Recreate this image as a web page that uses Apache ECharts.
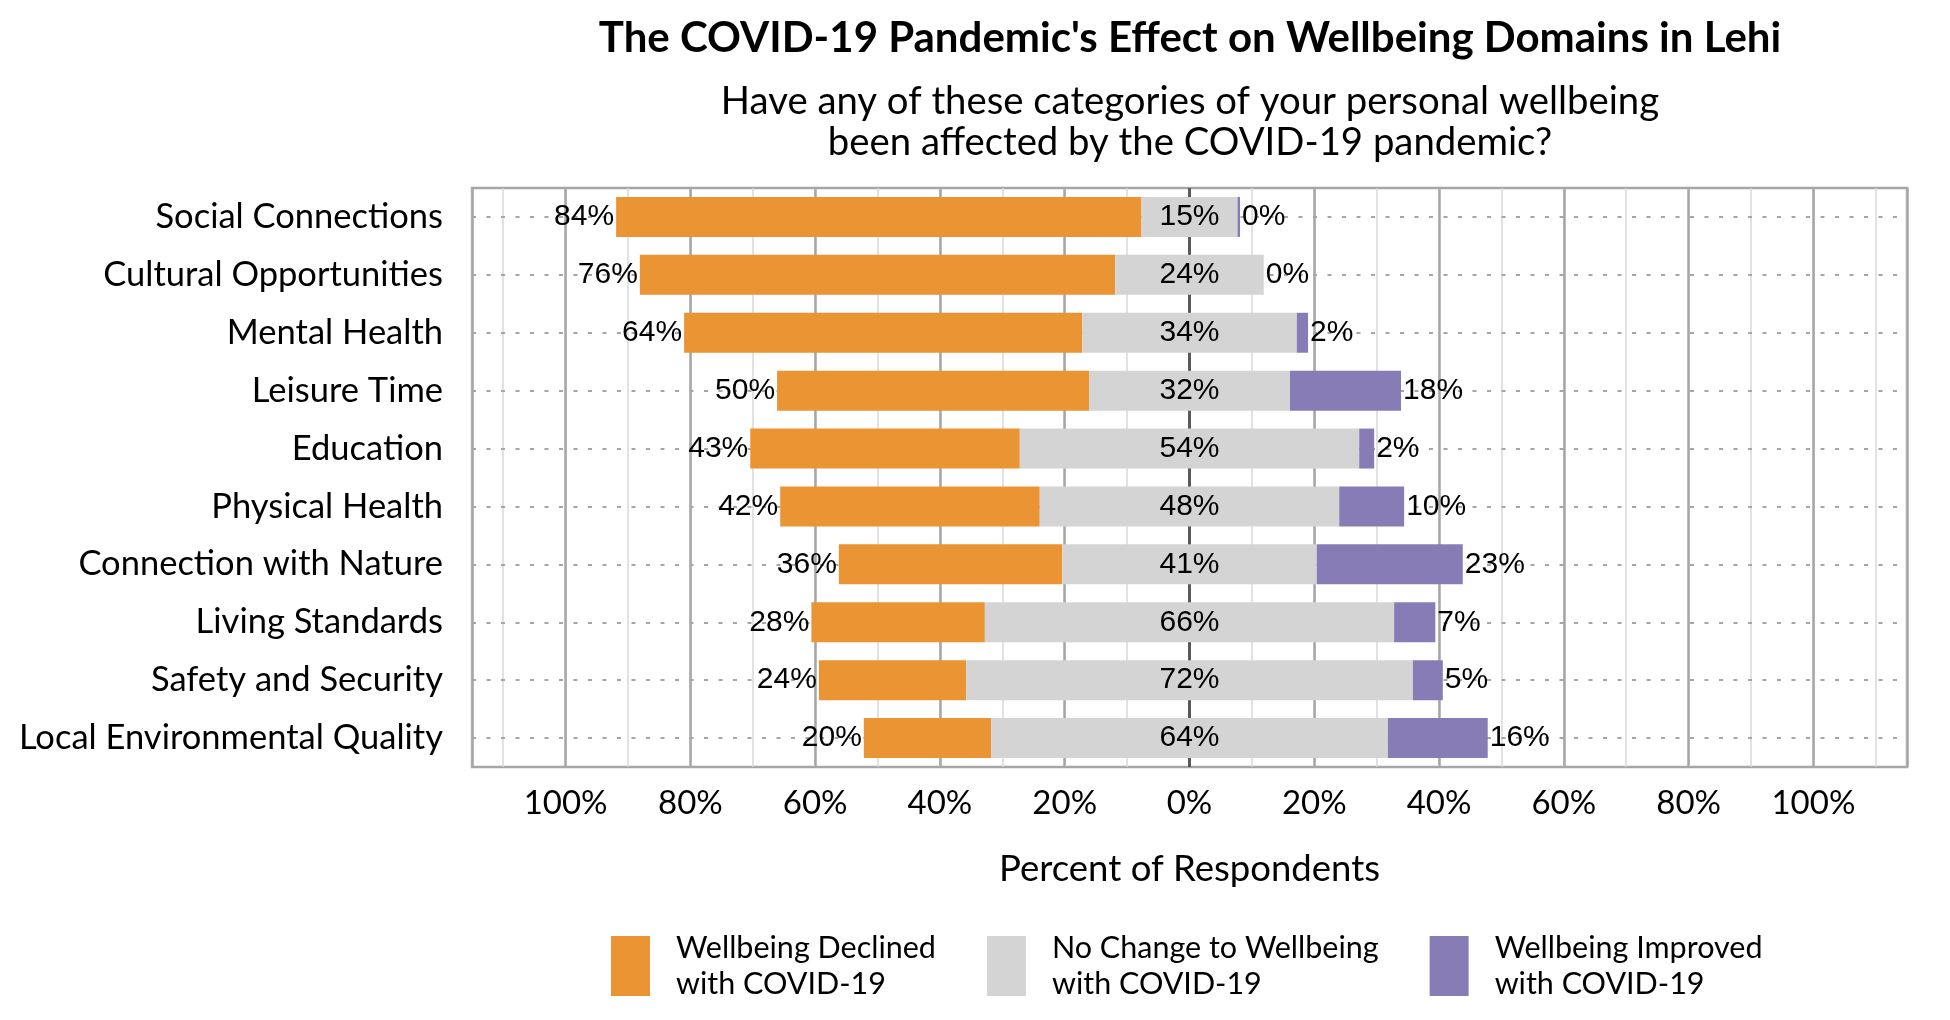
<!DOCTYPE html>
<html>
<head>
<meta charset="utf-8">
<script src="https://cdn.jsdelivr.net/npm/echarts@6/dist/echarts.min.js"></script>
<style>
html,body{margin:0;padding:0;background:#fff;}
#chart{width:1950px;height:1020px;}
</style>
</head>
<body>
<div id="chart"></div>
<script>
const categories = ['Social Connections', 'Cultural Opportunities', 'Mental Health', 'Leisure Time', 'Education', 'Physical Health', 'Connection with Nature', 'Living Standards', 'Safety and Security', 'Local Environmental Quality'];
const declined = [84.2, 76.2, 63.8, 50.0, 43.2, 41.6, 35.8, 27.8, 23.6, 20.4];
const noChange = [15.4, 23.8, 34.4, 32.2, 54.4, 48.0, 40.8, 65.6, 71.6, 63.6];
const improved = [0.4, 0.0, 1.8, 17.8, 2.4, 10.4, 23.4, 6.6, 4.8, 16.0];
const seriesNames = ['Wellbeing Declined\nwith COVID-19', 'No Change to Wellbeing\nwith COVID-19', 'Wellbeing Improved\nwith COVID-19'];
const seriesColors = ['#EB9434', '#D4D4D4', '#887CB6'];
const titleText = "The COVID-19 Pandemic's Effect on Wellbeing Domains in Lehi";
const subtitleText = 'Have any of these categories of your personal wellbeing\nbeen affected by the COVID-19 pandemic?';
const axisName = 'Percent of Respondents';

const offset = declined.map((d, i) => -(d + noChange[i] / 2));
const pct = v => Math.round(v) + '%';
const FONT = 'Lato';
const LABELFONT = 'Liberation Sans';

const chart = echarts.init(document.getElementById('chart'), null, {renderer: 'canvas'});
const labelBase = {show: true, color: '#000', fontFamily: LABELFONT, fontSize: 30, formatter: p => pct(p.value)};

const option = {
  animation: false,
  backgroundColor: '#fff',
  title: [
    {text: titleText, left: 1190, top: 17, textAlign: 'center', padding: 0,
     textStyle: {fontFamily: FONT, fontWeight: 'bold', fontSize: 42, color: '#000'}},
    {text: subtitleText, left: 1190, top: 81, textAlign: 'center', padding: 0,
     textStyle: {fontFamily: FONT, fontWeight: 'normal', fontSize: 38.3, lineHeight: 41, color: '#000'}}
  ],
  grid: {left: 472, right: 43, top: 188, bottom: 253, show: true, borderColor: '#a6a6a6', borderWidth: 2.5, backgroundColor: 'transparent'},
  legend: {
    data: seriesNames, left: 606, top: 925, itemWidth: 39, itemHeight: 60, itemGap: 51, icon: 'rect',
    textStyle: {fontFamily: FONT, fontSize: 30.5, lineHeight: 36, color: '#000', padding: [0, 0, 0, 21]}
  },
  xAxis: [
    {type: 'value', min: -115, max: 115, splitNumber: 23, minInterval: 10, maxInterval: 10,
     axisLine: {show: false}, axisTick: {show: false},
     axisLabel: {margin: 20, fontFamily: FONT, fontSize: 33, color: '#000',
                 formatter: v => (Math.round(v) % 20 === 0 ? Math.abs(Math.round(v)) + '%' : '')},
     splitLine: {show: true, lineStyle: {color: '#d9d9d9', width: 1.5}},
     name: axisName, nameLocation: 'middle', nameGap: 84,
     nameTextStyle: {fontFamily: FONT, fontSize: 36.5, color: '#000'}},
    {type: 'value', min: -115, max: 115, splitNumber: 11, minInterval: 20, maxInterval: 20, position: 'bottom',
     axisLine: {show: false}, axisTick: {show: false}, axisLabel: {show: false},
     splitLine: {show: true, lineStyle: {color: '#a6a6a6', width: 2.5}}}
  ],
  yAxis: {
    type: 'category', data: categories, inverse: true,
    axisLine: {show: false}, axisTick: {show: false}, splitLine: {show: false},
    axisLabel: {margin: 29, fontFamily: FONT, fontSize: 34.5, color: '#000'}
  },
  series: [
    {name: 'offset', type: 'bar', stack: 'total', stackStrategy: 'all', data: offset, barWidth: 40,
     itemStyle: {color: 'transparent'}, silent: true, z: 2,
     markLine: {
       silent: true, symbol: ['none', 'none'], z: 1, label: {show: false},
       lineStyle: {color: '#a6a6a6', width: 2, type: [4, 10.5]},
       data: categories.map(c => ({yAxis: c})).concat([
         {xAxis: 0, lineStyle: {color: '#595959', width: 3, type: 'solid'}}
       ])
     }},
    {name: seriesNames[0], type: 'bar', stack: 'total', stackStrategy: 'all', data: declined, barWidth: 40,
     itemStyle: {color: seriesColors[0]}, label: Object.assign({}, labelBase, {position: 'left', distance: 2})},
    {name: seriesNames[1], type: 'bar', stack: 'total', stackStrategy: 'all', data: noChange, barWidth: 40,
     itemStyle: {color: seriesColors[1]}, label: Object.assign({}, labelBase, {position: 'inside'})},
    {name: seriesNames[2], type: 'bar', stack: 'total', stackStrategy: 'all', data: improved, barWidth: 40,
     itemStyle: {color: seriesColors[2]}, label: Object.assign({}, labelBase, {position: 'right', distance: 2})}
  ]
};
chart.setOption(option);
</script>
</body>
</html>
